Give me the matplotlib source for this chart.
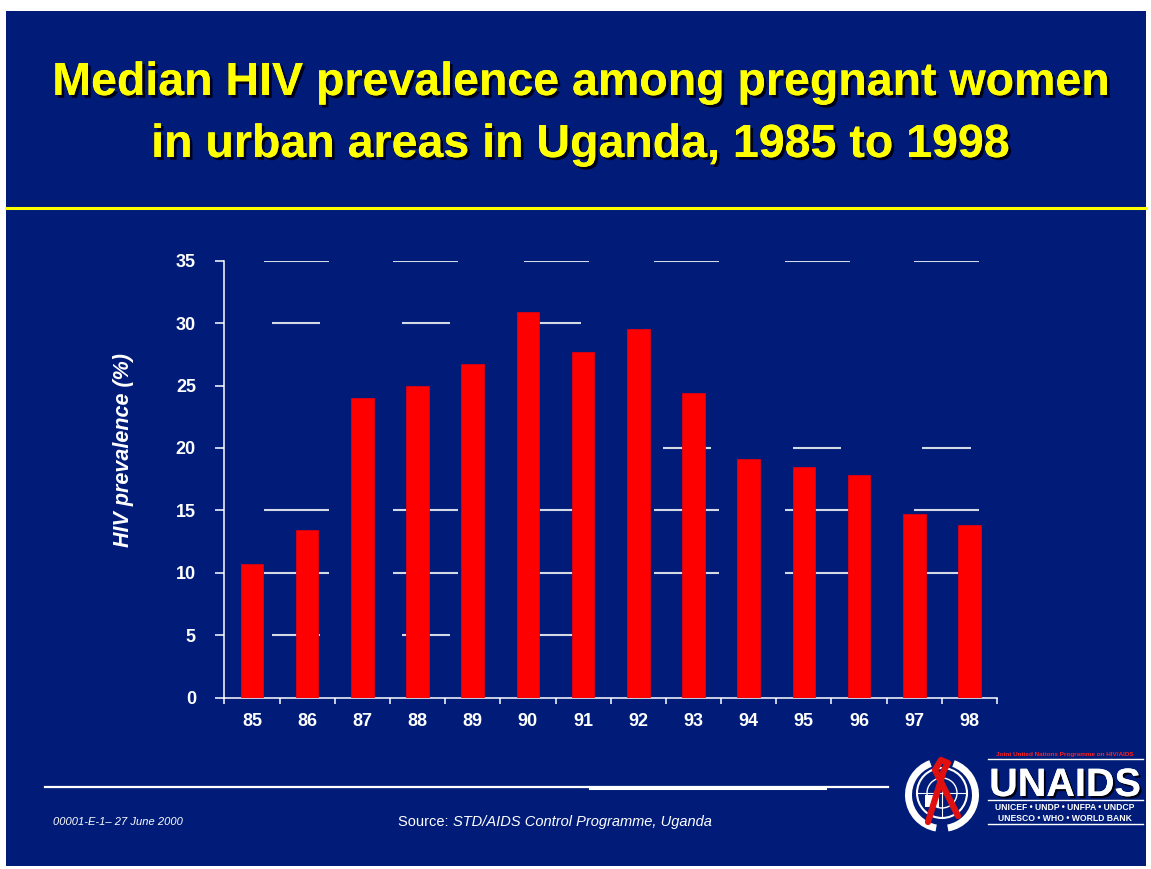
"""Median HIV prevalence among pregnant women, urban Uganda 1985-1998 (UNAIDS slide)."""
import matplotlib
matplotlib.use("Agg")
import matplotlib.pyplot as plt
import matplotlib.patheffects as pe
from matplotlib.patches import Rectangle, Circle, Wedge

years = ["85", "86", "87", "88", "89", "90", "91", "92", "93", "94", "95", "96", "97", "98"]
prevalence = [10.7, 13.4, 24.0, 25.0, 26.7, 30.9, 27.7, 29.5, 24.4, 19.1, 18.5, 17.8, 14.7, 13.8]
yticks = [0, 5, 10, 15, 20, 25, 30, 35]

title_1 = "Median HIV prevalence among pregnant women"
title_2 = "in urban areas in Uganda, 1985 to 1998"
ylabel = "HIV prevalence (%)"
slide_id = "00001-E-1\u2013 27 June 2000"
source_a = "Source: "
source_b = "STD/AIDS Control Programme, Uganda"

BG = "#001c78"
W, H = 1151, 869


def fx(x):
    return x / W


def fy(y):
    return 1 - y / H


plt.rcParams["font.family"] = ["Liberation Sans", "DejaVu Sans"]

fig = plt.figure(figsize=(W / 100, H / 100), dpi=100, facecolor="white")

# slide background
fig.patches.append(Rectangle((fx(6), fy(866)), fx(1146) - fx(6), fy(11) - fy(866),
                             transform=fig.transFigure, facecolor=BG, edgecolor="none", zorder=-5))

# title with dark drop shadow
shadow = [pe.withSimplePatchShadow(offset=(2, -2), shadow_rgbFace="#000018", alpha=1.0), pe.Normal()]
fig.text(fx(581), fy(95), title_1, color="#ffff00", fontsize=33.5, fontweight="bold",
         ha="center", va="baseline", path_effects=shadow)
fig.text(fx(580), fy(157), title_2, color="#ffff00", fontsize=33.5, fontweight="bold",
         ha="center", va="baseline", path_effects=shadow)

# yellow rule under title
fig.add_artist(plt.Line2D([fx(6), fx(1146)], [fy(208), fy(208)], transform=fig.transFigure,
                          color="#ffff00", lw=2.2))

# --- chart ---
ax = fig.add_axes([fx(224.4), fy(697.7), fx(997) - fx(224.4), fy(260.7) - fy(697.7)])
ax.patch.set_alpha(0)
x = list(range(len(years)))
ax.bar(x, prevalence, width=0.41, color="#ff0000", edgecolor="#e00010", linewidth=0.6, zorder=3)

# broken gridline fragments as they appear on the slide
centers = [0.80, 3.15, 5.52, 7.88, 10.24, 12.59]
frag = {35: (centers, 0.59), 30: (centers[:3], 0.44), 20: (centers[3:], 0.44),
        15: (centers, 0.59), 10: (centers, 0.59), 5: (centers[:3], 0.44)}
for level, (cs, hw) in frag.items():
    for c in cs:
        ax.plot([c - hw, c + hw], [level, level], color="#d4d9e6", lw=1.5, zorder=2,
                solid_capstyle="butt")

ax.set_xlim(-0.5, len(years) - 0.5)
ax.set_ylim(0, 35)
ax.set_yticks(yticks)
ax.set_yticklabels([str(v) for v in yticks])
ax.set_xticks([i - 0.5 for i in range(len(years) + 1)])
ax.set_xticklabels([])
ax.set_xticks(x, minor=True)
ax.set_xticklabels(years, minor=True)
ax.tick_params(axis="y", colors="white", length=6.5, width=1.1, pad=14, labelsize=13)
ax.tick_params(axis="x", which="major", colors="white", length=4.5, width=1.1)
ax.tick_params(axis="x", which="minor", length=0, pad=11, labelsize=13, labelcolor="white")
for lab in ax.get_yticklabels() + ax.get_xticklabels(minor=True):
    lab.set_fontweight("bold")
for s in ["top", "right"]:
    ax.spines[s].set_visible(False)
for s in ["left", "bottom"]:
    ax.spines[s].set_color("white")
    ax.spines[s].set_linewidth(1.1)

fig.text(fx(124), fy(450), ylabel, rotation=90, color="white", fontsize=15.5,
         fontweight="bold", fontstyle="italic", ha="center", va="center")

# --- footer ---
fig.add_artist(plt.Line2D([fx(45), fx(888)], [fy(787), fy(787)], transform=fig.transFigure,
                          color="white", lw=1.6))
fig.add_artist(plt.Line2D([fx(590), fx(825)], [fy(788), fy(788)], transform=fig.transFigure,
                          color="white", lw=2.2))
fig.text(fx(53), fy(822), slide_id, color="white", fontsize=8, fontstyle="italic",
         ha="left", va="center")
t = fig.text(fx(398), fy(822), source_a, color="white", fontsize=10.5, ha="left", va="center")
fig.canvas.draw()
bb = t.get_window_extent()
fig.text(bb.x1 / W, fy(822), source_b, color="white", fontsize=10.5, fontstyle="italic",
         ha="left", va="center")

# --- UNAIDS logo ---
fig.text(fx(1065), fy(756), "Joint United Nations Programme on HIV/AIDS", color="#ff2020",
         fontsize=4.6, fontweight="bold", ha="center", va="baseline")
fig.add_artist(plt.Line2D([fx(988), fx(1143)], [fy(759), fy(759)], transform=fig.transFigure,
                          color="white", lw=1))
fig.text(fx(1065), fy(796), "UNAIDS", color="white", fontsize=28.5, fontweight="bold",
         ha="center", va="baseline",
         path_effects=[pe.withSimplePatchShadow(offset=(1.5, -1.5), shadow_rgbFace="#000010",
                                                alpha=1.0), pe.Normal()])
fig.add_artist(plt.Line2D([fx(988), fx(1143)], [fy(800), fy(800)], transform=fig.transFigure,
                          color="white", lw=1))
fig.text(fx(1065), fy(810), "UNICEF \u2022 UNDP \u2022 UNFPA \u2022 UNDCP", color="white",
         fontsize=6.2, fontweight="bold", ha="center", va="baseline")
fig.text(fx(1065), fy(821), "UNESCO \u2022 WHO \u2022 WORLD BANK", color="white",
         fontsize=6.2, fontweight="bold", ha="center", va="baseline")
fig.add_artist(plt.Line2D([fx(988), fx(1143)], [fy(824), fy(824)], transform=fig.transFigure,
                          color="white", lw=1))

lax = fig.add_axes([fx(900), fy(836), fx(985) - fx(900), fy(750) - fy(836)])
lax.set_xlim(900, 985)
lax.set_ylim(836, 750)
lax.axis("off")
# wreath
lax.add_patch(Wedge((942, 795), 37, 100, 250, width=7, facecolor="white"))
lax.add_patch(Wedge((942, 795), 37, -70, 80, width=7, facecolor="white"))
# globe
lax.add_patch(Circle((942, 793), 25, facecolor=BG, edgecolor="white", lw=1.5))
lax.add_patch(Circle((942, 793), 15, facecolor="none", edgecolor="white", lw=1))
lax.plot([917, 967], [793, 793], color="white", lw=0.8)
lax.plot([942, 942], [768, 818], color="white", lw=0.8)
lax.add_patch(Rectangle((925, 795), 14, 12, facecolor="white", edgecolor="none"))
# red ribbon
lax.plot([928, 944, 948, 941, 935, 958], [822, 770, 763, 760, 770, 816], color="#e01010",
         lw=4.5, solid_capstyle="round", solid_joinstyle="round")

fig.savefig("out.png", dpi=100, facecolor="white")
